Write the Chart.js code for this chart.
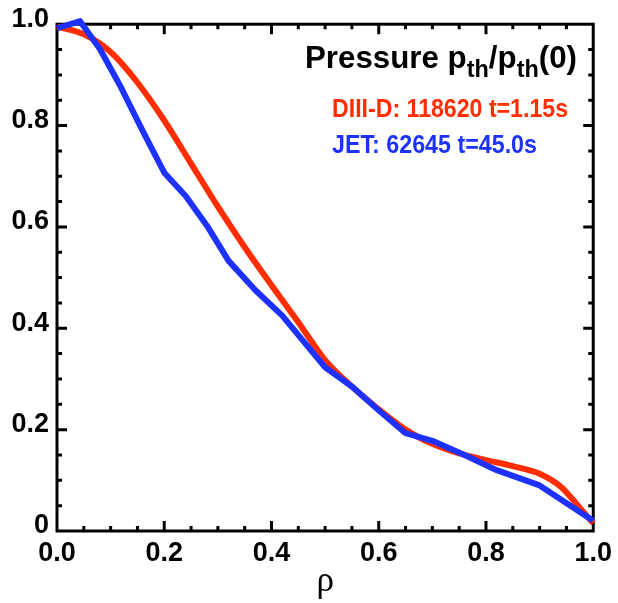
<!DOCTYPE html>
<html>
<head>
<meta charset="utf-8">
<script src="https://cdn.jsdelivr.net/npm/chart.js@4.4.1/dist/chart.umd.min.js"></script>
<style>
html, body { margin: 0; padding: 0; background: #fff; }
</style>
</head>
<body>
<canvas id="chart" width="618" height="603"></canvas>
<script>
'use strict';

// DIII-D 118620, t=1.15s
var rhoDiii = [0, 0.05, 0.1, 0.15, 0.2, 0.25, 0.3, 0.35, 0.4, 0.45, 0.5, 0.55, 0.6, 0.65, 0.7, 0.75, 0.8, 0.85, 0.9, 0.94, 0.97, 1.0];
var pDiii = [0.995, 0.98, 0.945, 0.885, 0.81, 0.725, 0.64, 0.56, 0.485, 0.412, 0.337, 0.285, 0.24, 0.2, 0.172, 0.153, 0.14, 0.128, 0.113, 0.087, 0.052, 0.015];

// JET 62645, t=45.0s
var rhoJet = [0, 0.043, 0.08, 0.12, 0.16, 0.2, 0.24, 0.28, 0.32, 0.37, 0.42, 0.5, 0.55, 0.6, 0.65, 0.7, 0.76, 0.82, 0.9, 1.0];
var pJet = [0.992, 1.006, 0.951, 0.874, 0.789, 0.707, 0.661, 0.602, 0.533, 0.475, 0.425, 0.323, 0.285, 0.238, 0.193, 0.178, 0.15, 0.12, 0.09, 0.02];

var xTickLabels = ['0.0', '0.2', '0.4', '0.6', '0.8', '1.0'];
var yTickLabels = ['0', '0.2', '0.4', '0.6', '0.8', '1.0'];
var legendDiii = 'DIII-D: 118620 t=1.15s';
var legendJet = 'JET: 62645 t=45.0s';

var RED = '#ff2d00';
var BLUE = '#1e32ff';
var SANS = '"Liberation Sans", Arial, sans-serif';

function toPoints(xs, ys) {
    return xs.map(function (x, i) { return { x: x, y: ys[i] }; });
}

var framePlugin = {
    id: 'frame',
    beforeDatasetsDraw: function (chart) {
        var ctx = chart.ctx, a = chart.chartArea;
        var xs = chart.scales.x, ys = chart.scales.y;
        ctx.save();
        ctx.strokeStyle = '#000';
        ctx.lineWidth = 3;
        ctx.strokeRect(a.left, a.top, a.right - a.left, a.bottom - a.top);
        ctx.beginPath();
        for (var i = 1; i < 20; i++) {
            var v = i / 20, len = (i % 4 === 0) ? 10 : 5;
            var px = xs.getPixelForValue(v), py = ys.getPixelForValue(v);
            ctx.moveTo(px, a.bottom); ctx.lineTo(px, a.bottom - len);
            ctx.moveTo(px, a.top); ctx.lineTo(px, a.top + len);
            ctx.moveTo(a.left, py); ctx.lineTo(a.left + len, py);
            ctx.moveTo(a.right, py); ctx.lineTo(a.right - len, py);
        }
        ctx.stroke();
        ctx.restore();
    },
    afterDraw: function (chart) {
        var ctx = chart.ctx;
        ctx.save();
        ctx.textAlign = 'left';
        ctx.textBaseline = 'alphabetic';
        ctx.fillStyle = '#000';

        // title with subscripts, squeezed to the reference width
        var parts = [['Pressure p', 32, 0], ['th', 24, 9], ['/p', 32, 0], ['th', 24, 9], ['(0)', 32, 0]];
        var total = 0;
        parts.forEach(function (p) {
            ctx.font = 'bold ' + p[1] + 'px ' + SANS;
            p.push(ctx.measureText(p[0]).width);
            total += p[3];
        });
        var k = 272 / total;
        ctx.translate(305, 68);
        ctx.scale(k, 1);
        var x = 0;
        parts.forEach(function (p) {
            ctx.font = 'bold ' + p[1] + 'px ' + SANS;
            ctx.fillText(p[0], x, p[2]);
            x += p[3];
        });
        ctx.setTransform(1, 0, 0, 1, 0, 0);

        ctx.font = 'bold 25px ' + SANS;
        ctx.fillStyle = RED;
        ctx.fillText(legendDiii, 332, 117, 236);
        ctx.fillStyle = BLUE;
        ctx.fillText(legendJet, 332, 153, 205);
        ctx.restore();
    }
};

var ctx = document.getElementById('chart').getContext('2d');
var myChart = new Chart(ctx, {
    type: 'line',
    data: {
        datasets: [{
            label: legendDiii,
            data: toPoints(rhoDiii, pDiii),
            borderColor: RED,
            borderWidth: 6,
            pointRadius: 0,
            cubicInterpolationMode: 'monotone',
            clip: false,
            order: 1
        }, {
            label: legendJet,
            data: toPoints(rhoJet, pJet),
            borderColor: BLUE,
            borderWidth: 6,
            pointRadius: 0,
            tension: 0,
            borderJoinStyle: 'round',
            clip: false,
            order: 0
        }]
    },
    options: {
        responsive: false,
        animation: false,
        layout: { padding: { left: 0, right: 23, top: 23, bottom: 0 } },
        plugins: { legend: { display: false }, tooltip: { enabled: false } },
        scales: {
            x: {
                type: 'linear',
                min: 0, max: 1,
                grid: { display: false, drawTicks: false },
                border: { display: false },
                ticks: {
                    stepSize: 0.2,
                    padding: 6,
                    maxRotation: 0,
                    color: '#000',
                    font: { family: SANS, size: 27, weight: 'bold' },
                    callback: function (value, index) { return xTickLabels[index]; }
                },
                title: {
                    display: true,
                    text: 'ρ',
                    color: '#000',
                    font: { family: '"Liberation Serif", serif', size: 35 },
                    padding: { top: 0, bottom: 0 }
                },
                afterFit: function (scale) { scale.height = 72; }
            },
            y: {
                type: 'linear',
                min: 0, max: 1,
                grid: { display: false, drawTicks: false },
                border: { display: false },
                ticks: {
                    stepSize: 0.2,
                    padding: 8,
                    labelOffset: -5,
                    color: '#000',
                    font: { family: SANS, size: 27, weight: 'bold' },
                    callback: function (value, index) { return yTickLabels[index]; }
                },
                afterFit: function (scale) { scale.width = 57; }
            }
        }
    },
    plugins: [framePlugin]
});
</script>
</body>
</html>
